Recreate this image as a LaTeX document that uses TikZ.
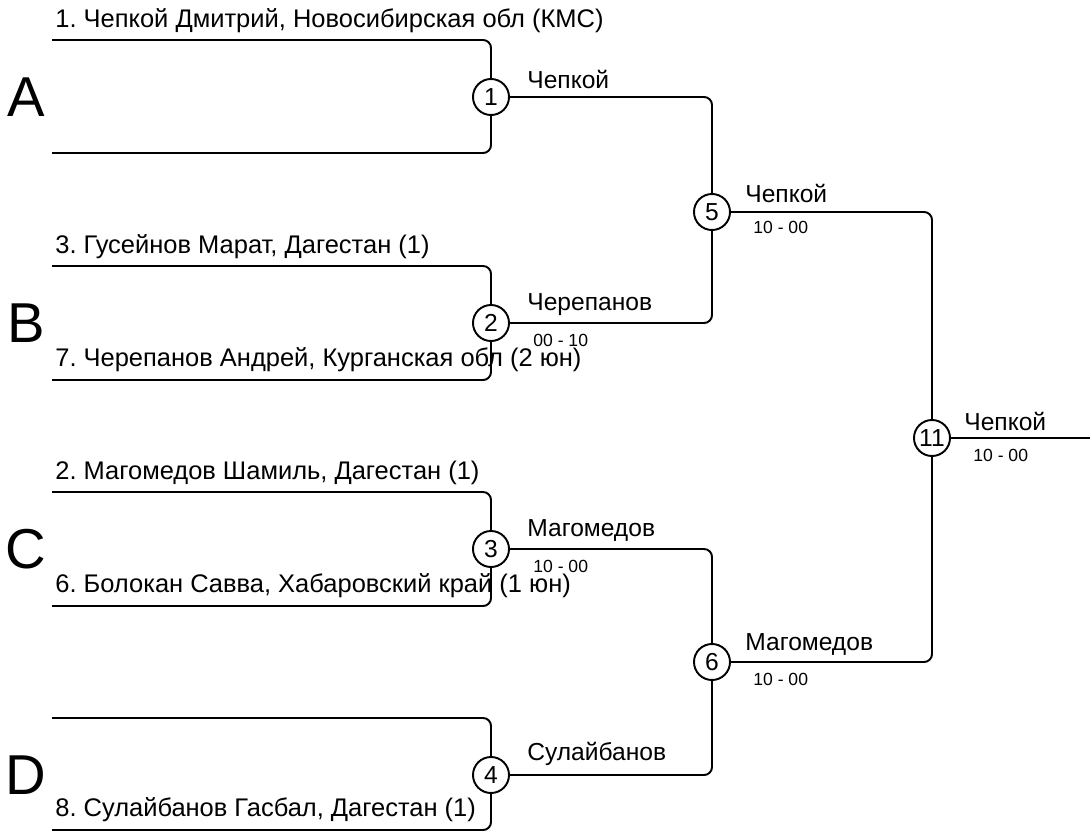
\documentclass[tikz,border=0pt]{standalone}
\usepackage{fontspec}
\setmainfont{Liberation Sans}
\usetikzlibrary{positioning}
\frenchspacing
\tikzset{
    linea/.style = {line width = 1.1pt, rounded corners = 4.5pt},
    incontro/.style = {circle, draw, line width = 1.1pt, minimum size = 20.5pt, inner sep = 0pt, font = \fontsize{14}{16}\selectfont},
    nome/.style = {anchor = base west, inner sep = 0pt, font = \fontsize{14.5}{16}\selectfont},
    vince/.style = {anchor = base west, inner sep = 0pt, font = \fontsize{14}{16}\selectfont},
    punti/.style = {anchor = base west, inner sep = 0pt, font = \fontsize{10}{12}\selectfont},
    gruppo/.style = {inner sep = 0pt, font = \fontsize{32}{36}\selectfont}
}

\begin{document}
\begin{tikzpicture}[x = 0.02cm, y = -0.02cm]
    \useasboundingbox (0,0) rectangle (1090,832);
    % parametri
    \pgfmathsetmacro{\xs}{52}
    \pgfmathsetmacro{\xn}{55}
    % incontri
    \node[incontro] (m1) at (491,97) {1};
    \node[incontro] (m2) at (491,323) {2};
    \node[incontro] (m3) at (491,549) {3};
    \node[incontro] (m4) at (491,775) {4};
    \node[incontro] (m5) at (712,212) {5};
    \node[incontro] (m6) at (712,662) {6};
    \node[incontro] (m11) at (932,438) {11};
    % inizio delle linee
    \coordinate (a1) at (\xs,40);
    \coordinate (a2) at (\xs,153);
    \coordinate (b1) at (\xs,266);
    \coordinate (b2) at (\xs,380);
    \coordinate (c1) at (\xs,492);
    \coordinate (c2) at (\xs,606);
    \coordinate (d1) at (\xs,718);
    \coordinate (d2) at (\xs,830);
    \coordinate (fine) at (1090,438);
    % primo turno
    \draw[linea] (a1) -| (m1);
    \draw[linea] (a2) -| (m1);
    \draw[linea] (b1) -| (m2);
    \draw[linea] (b2) -| (m2);
    \draw[linea] (c1) -| (m3);
    \draw[linea] (c2) -| (m3);
    \draw[linea] (d1) -| (m4);
    \draw[linea] (d2) -| (m4);
    % semifinali
    \draw[linea] (m1) -| (m5);
    \draw[linea] (m2) -| (m5);
    \draw[linea] (m3) -| (m6);
    \draw[linea] (m4) -| (m6);
    % finale
    \draw[linea] (m5) -| (m11);
    \draw[linea] (m6) -| (m11);
    \draw[linea] (m11) -- (fine);
    % gruppi
    \node[gruppo] (gA) at (26,97) {A};
    \node[gruppo] (gB) at (26,323) {B};
    \node[gruppo] (gC) at (26,549) {C};
    \node[gruppo] (gD) at (26,775) {D};
    % partecipanti
    \node[nome] (n1) at (\xn,27) {1. Чепкой Дмитрий, Новосибирская обл (КМС)};
    \node[nome] (n3) at (\xn,253) {3. Гусейнов Марат, Дагестан (1)};
    \node[nome] (n7) at (\xn,366) {7. Черепанов Андрей, Курганская обл (2 юн)};
    \node[nome] (n2) at (\xn,479) {2. Магомедов Шамиль, Дагестан (1)};
    \node[nome] (n6) at (\xn,592) {6. Болокан Савва, Хабаровский край (1 юн)};
    \node[nome] (n8) at (\xn,816) {8. Сулайбанов Гасбал, Дагестан (1)};
    % vincitori
    \node[vince] (v1) at (527,88) {Чепкой};
    \node[vince] (v2) at (527,310) {Черепанов};
    \node[vince] (v3) at (527,536) {Магомедов};
    \node[vince] (v4) at (527,760) {Сулайбанов};
    \node[vince] (v5) at (745,202) {Чепкой};
    \node[vince] (v6) at (745,650) {Магомедов};
    \node[vince] (v11) at (964,430) {Чепкой};
    % punteggi
    \node[punti] (s2) at (533,346) {00 - 10};
    \node[punti] (s3) at (533,572) {10 - 00};
    \node[punti] (s5) at (753,233) {10 - 00};
    \node[punti] (s6) at (753,685) {10 - 00};
    \node[punti] (s11) at (973,461) {10 - 00};
\end{tikzpicture}
\end{document}
